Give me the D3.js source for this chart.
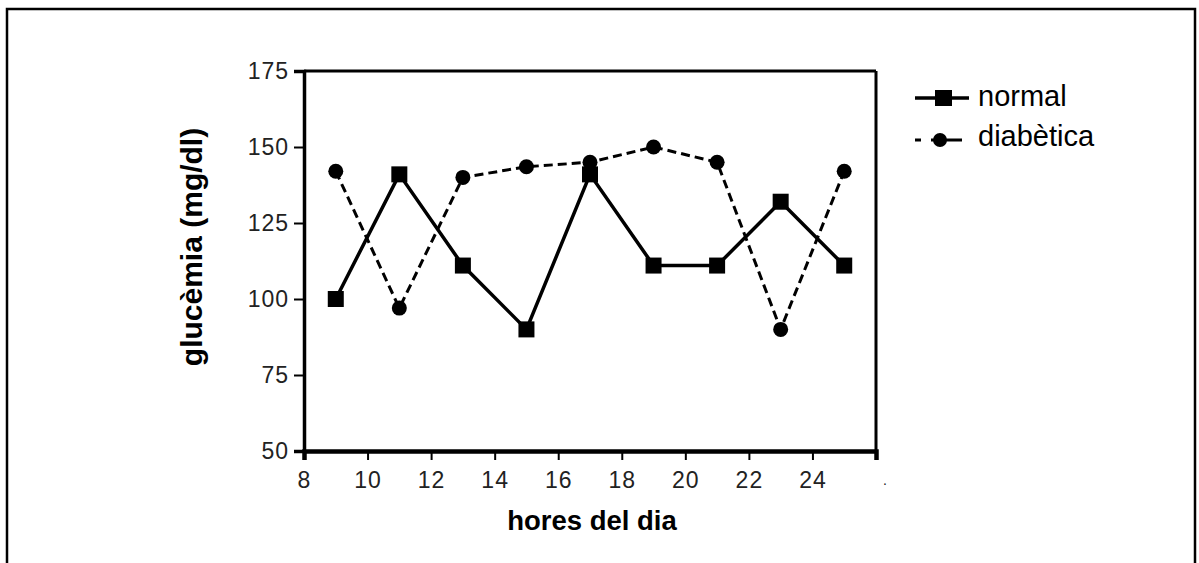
<!DOCTYPE html>
<html>
<head>
<meta charset="utf-8">
<script src="https://cdn.jsdelivr.net/npm/d3@7"></script>
<style>
  html, body { margin: 0; padding: 0; background: #fff; }
  svg { display: block; }
  text { font-family: Arial, "Liberation Sans", sans-serif; }
</style>
</head>
<body>
<svg id="chart" width="1199" height="563"></svg>
<script>
const hours = [9, 11, 13, 15, 17, 19, 21, 23, 25];
const normalValues = [100, 141, 111, 90, 141, 111, 111, 132, 111];
const diabeticValues = [142, 97, 140, 143.5, 145, 150, 145, 90, 142];
const xTicks = [8, 10, 12, 14, 16, 18, 20, 22, 24, 26];
const yTicks = [50, 75, 100, 125, 150, 175];
const seriesNames = ["normal", "diabètica"];

const svg = d3.select("#chart");

// outer frame
svg.append("rect").attr("x", 7).attr("y", 9).attr("width", 1188).attr("height", 570)
  .attr("fill", "none").attr("stroke", "#000").attr("stroke-width", 2.5);

const pLeft = 304, pRight = 876, pTop = 71, pBottom = 451;
const x = d3.scaleLinear().domain([8, 26]).range([pLeft, pRight]);
const y = d3.scaleLinear().domain([50, 175]).range([pBottom, pTop]);

// plot box
const box = svg.append("g");
box.append("line").attr("x1", pLeft).attr("x2", pRight).attr("y1", pTop).attr("y2", pTop).attr("stroke", "#000").attr("stroke-width", 3);
box.append("line").attr("x1", pRight).attr("x2", pRight).attr("y1", pTop).attr("y2", pBottom).attr("stroke", "#000").attr("stroke-width", 3);

const yAxis = svg.append("g").attr("transform", `translate(${pLeft},0)`)
  .call(d3.axisLeft(y).tickValues(yTicks).tickSize(10).tickPadding(5));
yAxis.select(".domain").attr("stroke-width", 3.5);
yAxis.selectAll(".tick line").attr("stroke-width", 2);
yAxis.selectAll("text").attr("font-size", 23).attr("fill", "#222").attr("letter-spacing", 1);

const xAxis = svg.append("g").attr("transform", `translate(0,${pBottom})`)
  .call(d3.axisBottom(x).tickValues(xTicks).tickSize(9).tickPadding(12)
    .tickFormat(d => d === 26 ? "." : d));
xAxis.select(".domain").attr("stroke-width", 4.5);
xAxis.selectAll(".tick line").attr("stroke-width", 2);
xAxis.selectAll("text").attr("font-size", 23).attr("fill", "#222").attr("letter-spacing", 1);
xAxis.selectAll(".tick").filter(d => d === 26).select("text")
  .attr("font-size", 14).attr("dx", 9).attr("dy", "0.9em");

const line = d3.line().x((d, i) => x(hours[i])).y(d => y(d));

// diabetic series (dashed, circles)
svg.append("path").datum(diabeticValues).attr("d", line)
  .attr("fill", "none").attr("stroke", "#000").attr("stroke-width", 3)
  .attr("stroke-dasharray", "9,5");
svg.selectAll("circle.diab").data(diabeticValues).enter().append("circle")
  .attr("cx", (d, i) => x(hours[i])).attr("cy", d => y(d)).attr("r", 7.5).attr("fill", "#000");

// normal series (solid, squares)
svg.append("path").datum(normalValues).attr("d", line)
  .attr("fill", "none").attr("stroke", "#000").attr("stroke-width", 3.5);
svg.selectAll("rect.norm").data(normalValues).enter().append("rect")
  .attr("x", (d, i) => x(hours[i]) - 8).attr("y", d => y(d) - 8)
  .attr("width", 16).attr("height", 16).attr("fill", "#000");

// legend
const lg = svg.append("g");
lg.append("line").attr("x1", 915).attr("x2", 969).attr("y1", 98).attr("y2", 98).attr("stroke", "#000").attr("stroke-width", 3.5);
lg.append("rect").attr("x", 935).attr("y", 90).attr("width", 17).attr("height", 16).attr("fill", "#000");
lg.append("text").attr("x", 978).attr("y", 106).attr("font-size", 29).text(seriesNames[0]);
lg.append("line").attr("x1", 915).attr("x2", 962).attr("y1", 140).attr("y2", 140).attr("stroke", "#000").attr("stroke-width", 3)
  .attr("stroke-dasharray", "6,10,40");
lg.append("circle").attr("cx", 940).attr("cy", 140).attr("r", 7).attr("fill", "#000");
lg.append("text").attr("x", 978).attr("y", 146).attr("font-size", 29).text(seriesNames[1]);

// axis titles
svg.append("text").attr("x", 592).attr("y", 530).attr("text-anchor", "middle")
  .attr("font-size", 27.5).attr("font-weight", "bold").text("hores del dia");
svg.append("text").attr("transform", "translate(202,247) rotate(-90)").attr("text-anchor", "middle")
  .attr("font-size", 30).attr("font-weight", "bold").text("glucèmia (mg/dl)");
</script>
</body>
</html>
